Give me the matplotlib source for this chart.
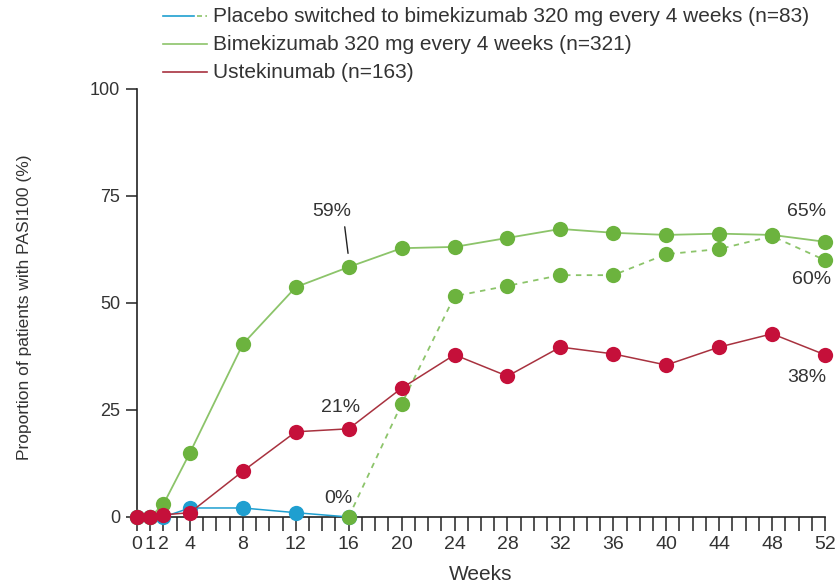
import matplotlib
matplotlib.use("Agg")
import matplotlib.pyplot as plt
from matplotlib.lines import Line2D

plt.rcParams['font.family'] = ['Liberation Sans', 'DejaVu Sans']

# data (%)
weeks_early = [0, 1, 2, 4, 8, 12, 16]
placebo = [0, 0, 0, 2.1, 2.1, 1.0, 0]

weeks_switch = [16, 20, 24, 28, 32, 36, 40, 44, 48, 52]
switched = [0, 26.4, 51.6, 54.0, 56.5, 56.5, 61.4, 62.6, 65.6, 60.0]

weeks_all = [0, 1, 2, 4, 8, 12, 16, 20, 24, 28, 32, 36, 40, 44, 48, 52]
bimek = [0, 0, 3.0, 15.0, 40.4, 53.7, 58.4, 62.8, 63.1, 65.2, 67.3, 66.4, 65.9, 66.2, 65.9, 64.3]
ustek = [0, 0, 0.5, 1.0, 10.7, 19.9, 20.6, 30.1, 37.9, 32.9, 39.7, 38.1, 35.5, 39.7, 42.8, 37.9]

tick_weeks = [0, 1, 2, 4, 8, 12, 16, 20, 24, 28, 32, 36, 40, 44, 48, 52]
legend_labels = ["Placebo switched to bimekizumab 320 mg every 4 weeks (n=83)",
                 "Bimekizumab 320 mg every 4 weeks (n=321)",
                 "Ustekinumab (n=163)"]

BLUE = "#1f9fd0"
GREEN = "#6cb33e"
GREEN_LINE = "#8cc46a"
RED = "#c5103a"
RED_LINE = "#a8323f"
TXT = "#333333"

fig = plt.figure(figsize=(8.38, 5.87), dpi=100)
ax = fig.add_axes([0.1635, 0.1193, 0.821, 0.7291])

ms = 11
ax.plot(weeks_early, placebo, color=BLUE, lw=1.1, marker='o', ms=ms,
        markeredgewidth=0, clip_on=False, zorder=3)
ax.plot(weeks_all, bimek, color=GREEN_LINE, lw=1.3, marker='o', ms=ms,
        markerfacecolor=GREEN, markeredgewidth=0, clip_on=False, zorder=4)
ax.plot(weeks_switch, switched, color=GREEN_LINE, lw=1.3, ls=(0, (3, 3)), marker='o', ms=ms,
        markerfacecolor=GREEN, markeredgewidth=0, clip_on=False, zorder=4)
ax.plot(weeks_all, ustek, color=RED_LINE, lw=1.1, marker='o', ms=ms,
        markerfacecolor=RED, markeredgewidth=0, clip_on=False, zorder=5)

ax.set_xlim(0, 52)
ax.set_ylim(0, 100)
ax.spines['top'].set_visible(False)
ax.spines['right'].set_visible(False)
for s in ('left', 'bottom'):
    ax.spines[s].set_linewidth(1.2)
    ax.spines[s].set_color('#222222')

ax.set_xticks(tick_weeks)
ax.set_xticklabels([str(w) for w in tick_weeks])
ax.set_xticks(range(0, 53), minor=True)
ax.tick_params(axis='x', which='both', direction='out', length=10, width=1.1,
               color='#222222', labelsize=14, labelcolor=TXT, pad=4)
ax.set_yticks([0, 25, 50, 75, 100])
ax.tick_params(axis='y', direction='out', length=8, width=1.1, color='#222222',
               labelsize=13, labelcolor=TXT, pad=4)

ax.set_xlabel("Weeks", fontsize=15, color=TXT)
ax.xaxis.set_label_coords(0.5, -0.112)
ax.set_ylabel("Proportion of patients with PASI100 (%)", fontsize=12.5, color=TXT)
ax.yaxis.set_label_coords(-0.153, 0.49)

# annotations
ax.annotate("", xy=(15.95, 61.6), xytext=(15.7, 67.8),
            arrowprops=dict(arrowstyle='-', color='#222222', lw=1.0, shrinkA=0, shrinkB=0))
ax.text(14.75, 71.3, "59%", fontsize=14, color=TXT, ha='center', va='center')
ax.text(15.4, 25.5, "21%", fontsize=14, color=TXT, ha='center', va='center')
ax.text(15.2, 4.2, "0%", fontsize=14, color=TXT, ha='center', va='center')
ax.text(50.6, 71.3, "65%", fontsize=14, color=TXT, ha='center', va='center')
ax.text(51.0, 55.4, "60%", fontsize=14, color=TXT, ha='center', va='center')
ax.text(50.6, 32.7, "38%", fontsize=14, color=TXT, ha='center', va='center')

# legend drawn in figure coordinates
rows = [1 - 16 / 587, 1 - 44 / 587, 1 - 72 / 587]
x0 = 163 / 838
fig.add_artist(Line2D([x0, 194 / 838], [rows[0]] * 2, color=BLUE, lw=1.2))
fig.add_artist(Line2D([197 / 838, 207 / 838], [rows[0]] * 2, color=GREEN_LINE, lw=1.2, ls=(0, (3, 2))))
fig.add_artist(Line2D([x0, 207 / 838], [rows[1]] * 2, color=GREEN_LINE, lw=1.2))
fig.add_artist(Line2D([x0, 207 / 838], [rows[2]] * 2, color=RED_LINE, lw=1.2))
for y, lab in zip(rows, legend_labels):
    fig.text(213 / 838, y, lab, fontsize=15, color=TXT, ha='left', va='center')

fig.savefig("out.png", dpi=100)
